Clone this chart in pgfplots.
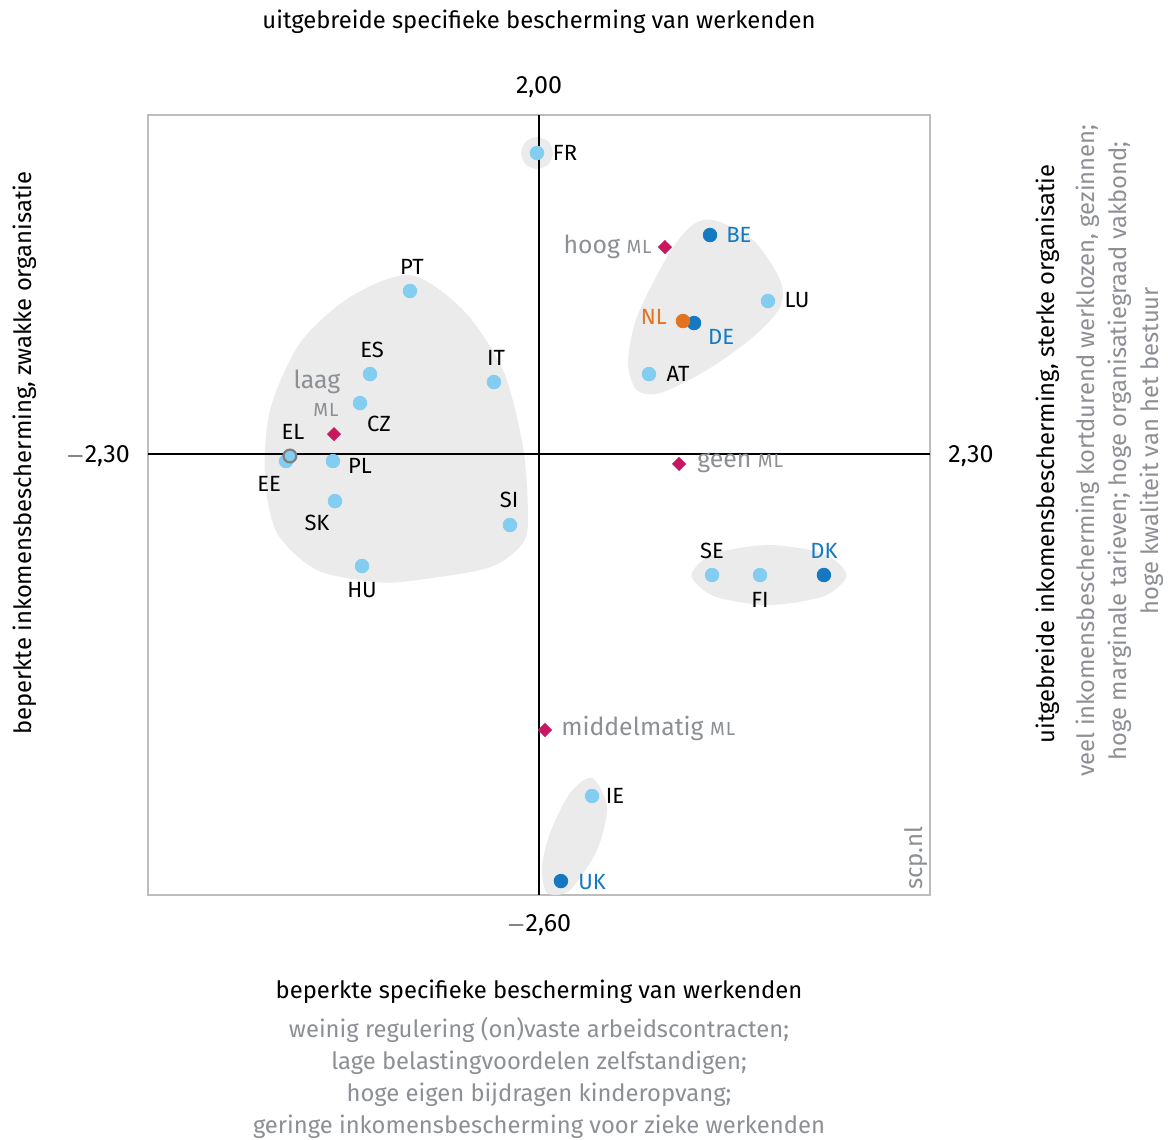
\documentclass[border=0pt]{standalone}
\usepackage{fontspec}
\setmainfont{Fira Sans}
\usepackage{pgfplots}
\pgfplotsset{compat=1.18}
\definecolor{lb}{HTML}{82CDF0}
\definecolor{db}{HTML}{1479C0}
\definecolor{orng}{HTML}{E4731F}
\definecolor{mag}{HTML}{C8175E}
\definecolor{hull}{HTML}{EBEBEB}
\definecolor{tg}{HTML}{8C8F93}
\definecolor{boxgrey}{HTML}{BDBDBD}
\newcommand{\ML}{{\fontsize{9.5}{9.5}\selectfont M\kern0.4pt L}}
\tikzset{lab/.style={font=\fontsize{11}{12}\selectfont, inner sep=0pt},
  mll/.style={font=\fontsize{12.4}{13}\selectfont, text=tg, inner sep=0pt}}
\begin{document}
\begin{tikzpicture}
\begin{axis}[scale only axis, width=391pt, height=390pt,
  xmin=-2.3, xmax=2.3, ymin=-2.6, ymax=2.0,
  axis line style={boxgrey, line width=0.9pt}, ticks=none, clip=false]
% hulls
\addplot[fill=hull, draw=none, smooth cycle] coordinates {
(-0.759,1.056) (-0.447,0.850) (-0.212,0.496) (-0.094,0.042) (-0.065,-0.348)
(-0.094,-0.524) (-0.288,-0.667) (-0.718,-0.743) (-0.953,-0.755) (-1.306,-0.684)
(-1.541,-0.465) (-1.612,-0.135) (-1.582,0.260) (-1.406,0.655) (-1.112,0.926)};
\addplot[fill=hull, draw=none, smooth cycle] coordinates {
(1.024,1.381) (1.259,1.263) (1.418,1.027) (1.418,0.867) (1.259,0.690)
(0.988,0.496) (0.712,0.360) (0.576,0.378) (0.524,0.537) (0.576,0.809)
(0.753,1.162) (0.888,1.339)};
\addplot[fill=hull, draw=none, smooth cycle] coordinates {
(0.082,1.776) (0.055,1.843) (-0.012,1.870) (-0.078,1.843) (-0.106,1.776)
(-0.078,1.709) (-0.012,1.682) (0.055,1.709)};
\addplot[fill=hull, draw=none, smooth cycle] coordinates {
(1.809,-0.713) (1.675,-0.588) (1.353,-0.536) (1.031,-0.588) (0.897,-0.713)
(1.031,-0.838) (1.353,-0.890) (1.675,-0.838)};
\addplot[fill=hull, draw=none, smooth cycle] coordinates {
(0.312,-1.910) (0.400,-2.081) (0.341,-2.335) (0.182,-2.571) (0.047,-2.588)
(0.018,-2.435) (0.065,-2.234) (0.182,-1.999)};
% centre lines
\addplot[black, line width=0.9pt] coordinates {(-2.3,0) (2.3,0)};
\addplot[black, line width=0.9pt] coordinates {(0,-2.6) (0,2.0)};
% ML diamonds
\addplot[only marks, mark=square*, mark size=2.3pt, color=mag, mark options={rotate=45}] coordinates {
(0.741,1.221) (-1.206,0.118) (0.824,-0.058) (0.035,-1.627)};
% light blue countries
\addplot[only marks, mark=*, mark size=3.4pt, color=lb] coordinates {
(-0.012,1.776) (1.347,0.903) (0.647,0.472) (-0.759,0.962) (-0.994,0.472)
(-0.265,0.425) (-1.053,0.301) (-1.488,-0.041) (-1.212,-0.041) (-1.200,-0.277)
(-0.171,-0.418) (-1.041,-0.660) (1.018,-0.713) (1.300,-0.713) (0.312,-2.016)};
% EL with grey ring
\addplot[only marks, mark=*, mark size=3.2pt, mark options={draw=gray, fill=lb, line width=1.1pt}] coordinates {(-1.465,-0.011)};
% dark blue
\addplot[only marks, mark=*, mark size=3.4pt, color=db] coordinates {
(1.006,1.292) (0.912,0.773) (1.676,-0.713) (0.129,-2.518)};
% NL
\addplot[only marks, mark=*, mark size=3.4pt, color=orng] coordinates {(0.847,0.785)};
% country labels
\node[lab] at (axis cs:0.153,1.776) {FR};
\node[lab, text=db] at (axis cs:1.176,1.292) {BE};
\node[lab] at (axis cs:1.518,0.909) {LU};
\node[lab, text=orng] at (axis cs:0.676,0.808) {NL};
\node[lab, text=db] at (axis cs:1.071,0.690) {DE};
\node[lab] at (axis cs:0.818,0.472) {AT};
\node[lab] at (axis cs:-0.747,1.103) {PT};
\node[lab] at (axis cs:-0.982,0.614) {ES};
\node[lab] at (axis cs:-0.253,0.567) {IT};
\node[lab] at (axis cs:-0.941,0.177) {CZ};
\node[lab] at (axis cs:-1.447,0.130) {EL};
\node[lab] at (axis cs:-1.588,-0.177) {EE};
\node[lab] at (axis cs:-1.053,-0.070) {PL};
\node[lab] at (axis cs:-1.306,-0.407) {SK};
\node[lab] at (axis cs:-0.176,-0.271) {SI};
\node[lab] at (axis cs:-1.041,-0.801) {HU};
\node[lab] at (axis cs:1.018,-0.572) {SE};
\node[lab] at (axis cs:1.300,-0.861) {FI};
\node[lab, text=db] at (axis cs:1.676,-0.572) {DK};
\node[lab] at (axis cs:0.447,-2.016) {IE};
\node[lab, text=db] at (axis cs:0.312,-2.524) {UK};
% ML labels
\node[mll, anchor=east] at (axis cs:0.665,1.221) {hoog \ML};
\node[mll] at (axis cs:-1.306,0.425) {laag};
\node[mll] at (axis cs:-1.253,0.260) {\ML};
\node[mll, anchor=west] at (axis cs:0.929,-0.053) {geen \ML};
\node[mll, anchor=west] at (axis cs:0.129,-1.617) {middelmatig \ML};
% tick labels
\node[font=\fontsize{12.5}{13}\selectfont] at (axis cs:0,2.165) {2,00};
\node[font=\fontsize{12.5}{13}\selectfont] at (axis cs:0,-2.777) {$-$2,60};
\node[font=\fontsize{12.5}{13}\selectfont] at (axis cs:-2.594,-0.011) {$-$2,30};
\node[font=\fontsize{12.5}{13}\selectfont] at (axis cs:2.541,-0.011) {2,30};
% titles
\node[font=\fontsize{11.9}{12}\selectfont] at (axis cs:0,2.548) {uitgebreide specifieke bescherming van werkenden};
\node[font=\fontsize{11.9}{12}\selectfont] at (axis cs:0,-3.172) {beperkte specifieke bescherming van werkenden};
\node[font=\fontsize{11.9}{16}\selectfont, text=tg, align=center] at (axis cs:0,-3.679) {weinig regulering (on)vaste arbeidscontracten;\\lage belastingvoordelen zelfstandigen;\\hoge eigen bijdragen kinderopvang;\\geringe inkomensbescherming voor zieke werkenden};
\node[font=\fontsize{11.9}{12}\selectfont, rotate=90] at (axis cs:-3.024,0.006) {beperkte inkomensbescherming, zwakke organisatie};
\node[font=\fontsize{11.9}{12}\selectfont, rotate=90] at (axis cs:2.994,0) {uitgebreide inkomensbescherming, sterke organisatie};
\node[font=\fontsize{11.9}{16}\selectfont, text=tg, align=center, rotate=90] at (axis cs:3.418,0.02) {veel inkomensbescherming kortdurend werklozen, gezinnen;\\hoge marginale tarieven; hoge organisatiegraad vakbond;\\hoge kwaliteit van het bestuur};
\node[font=\fontsize{12}{13}\selectfont, text=tg, rotate=90] at (axis cs:2.218,-2.382) {scp.nl};
\end{axis}
\pgfresetboundingbox
\useasboundingbox (-74pt,-122.5pt) rectangle (510pt,447.5pt);
\end{tikzpicture}
\end{document}
